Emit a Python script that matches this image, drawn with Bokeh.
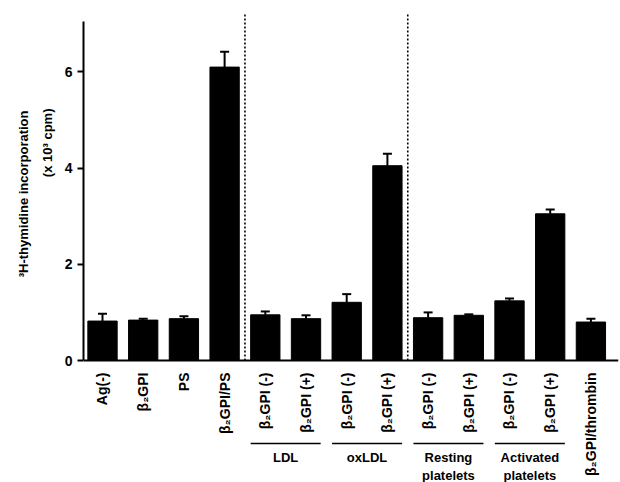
import math
from bokeh.plotting import figure
from bokeh.models import Range1d, FixedTicker, Whisker, ColumnDataSource, TeeHead, Title
from bokeh.core.properties import value
from bokeh.embed import file_html
from bokeh.resources import INLINE

# ---- data ----
labels = ["Ag(-)", "β₂GPI", "PS", "β₂GPI/PS",
          "β₂GPI (-)", "β₂GPI (+)", "β₂GPI (-)", "β₂GPI (+)",
          "β₂GPI (-)", "β₂GPI (+)", "β₂GPI (-)", "β₂GPI (+)",
          "β₂GPI/thrombin"]
means = [0.82, 0.84, 0.87, 6.10, 0.95, 0.87, 1.21, 4.05, 0.89, 0.94, 1.24, 3.05, 0.80]
errors = [0.15, 0.03, 0.05, 0.32, 0.07, 0.07, 0.17, 0.25, 0.11, 0.02, 0.05, 0.09, 0.07]
group_names = ["LDL", "oxLDL", "Resting\nplatelets", "Activated\nplatelets"]
group_first = [4, 6, 8, 10]
dividers = [3.5, 7.5]
y_ticks = [0, 2, 4, 6]
y_title = ["³H-thymidine incorporation", "(x 10³ cpm)"]

FONT = "Liberation Sans"
BAR_W = 0.72

xs = list(range(len(labels)))
src = ColumnDataSource(dict(
    x=xs, top=means,
    lower=means,
    upper=[m + e for m, e in zip(means, errors)],
))

p = figure(width=620, height=482, output_backend="svg", toolbar_location=None,
           x_range=Range1d(-0.467, 12.678), y_range=Range1d(-2.536, 7.235),
           min_border_left=83, min_border_right=2, min_border_top=12, min_border_bottom=0)
p.background_fill_color = "white"
p.border_fill_color = "white"
p.outline_line_color = None
p.grid.visible = False

# bars
p.vbar(x="x", top="top", width=BAR_W, bottom=0, source=src,
       fill_color="black", line_color="black")

# error bars (upper only)
p.add_layout(Whisker(source=src, base="x", lower="lower", upper="upper",
                     dimension="height", line_width=2, line_color="black",
                     upper_head=TeeHead(size=9, line_width=2, line_color="black"),
                     lower_head=None))

# dotted separators
y_top = p.y_range.end
p.segment(x0=dividers, x1=dividers, y0=[0] * len(dividers), y1=[y_top] * len(dividers),
          line_color="black", line_width=1.6, line_dash="2 2")

# group underlines and labels
gx0 = [g - BAR_W / 2 for g in group_first]
gx1 = [g + 1 + BAR_W / 2 for g in group_first]
gc = [g + 0.5 for g in group_first]
line_y = -1.726
p.segment(x0=gx0, x1=gx1, y0=[line_y] * 4, y1=[line_y] * 4,
          line_color="black", line_width=1.5)
p.text(x=gc, y=[-1.87] * 4, text=group_names, text_align="center", text_baseline="top",
       text_font=value(FONT), text_font_style="bold", text_font_size="13px",
       text_line_height=1.15, text_color="black")

# x axis at y=0
xa = p.xaxis[0]
xa.fixed_location = 0
xa.ticker = FixedTicker(ticks=xs)
xa.major_label_overrides = {i: lab for i, lab in zip(xs, labels)}
xa.major_label_orientation = math.pi / 2
xa.major_tick_line_color = None
xa.minor_tick_line_color = None
xa.axis_line_width = 2
xa.axis_line_color = "black"
xa.major_label_text_font = FONT
xa.major_label_text_font_style = "bold"
xa.major_label_text_font_size = "14px"
xa.major_label_text_color = "black"
xa.major_label_standoff = 6

# y axis
ya = p.yaxis[0]
ya.bounds = (0, 7.05)
ya.ticker = FixedTicker(ticks=y_ticks)
ya.minor_tick_line_color = None
ya.major_tick_out = 6
ya.major_tick_in = 0
ya.major_tick_line_width = 2
ya.axis_line_width = 2
ya.axis_line_color = "black"
ya.major_label_text_font = FONT
ya.major_label_text_font_style = "bold"
ya.major_label_text_font_size = "14px"
ya.major_label_text_color = "black"
ya.major_label_standoff = 5

# y axis title: two lines placed as side titles (closest line first), ends aligned at top
for txt, off, so in zip(reversed(y_title), [96, 98], [13, 2]):
    p.add_layout(Title(text=txt, align="right", offset=off, standoff=so,
                       text_font=FONT, text_font_style="bold", text_font_size="13px",
                       text_color="black"), "left")

open("out.html", "w").write(file_html(p, INLINE))
